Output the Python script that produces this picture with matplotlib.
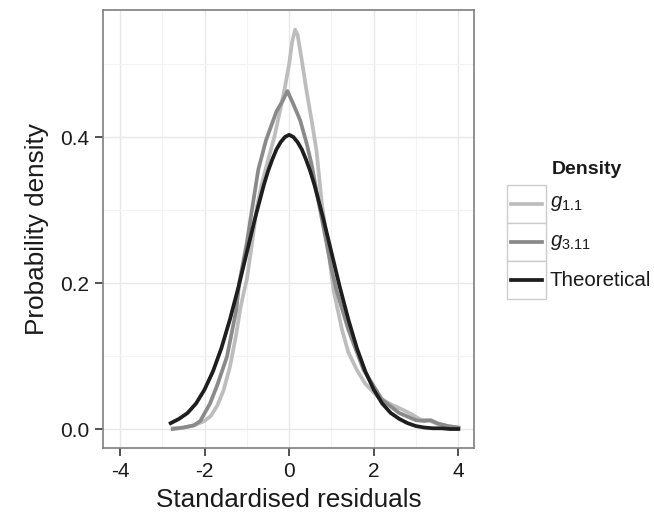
import matplotlib
matplotlib.use("Agg")
import matplotlib.pyplot as plt
from matplotlib.patches import Rectangle
from matplotlib.lines import Line2D
from matplotlib.ticker import MultipleLocator

plt.rcParams['font.family'] = ['Liberation Sans', 'DejaVu Sans']
plt.rcParams['mathtext.fontset'] = 'custom'
plt.rcParams['mathtext.rm'] = 'Liberation Sans'
plt.rcParams['mathtext.it'] = 'Liberation Sans:italic'

# ---- data ----
x_g11 = [-2.75, -2.5, -2.25, -2.0, -1.85, -1.7, -1.55, -1.4, -1.25, -1.16, -1.08, -1.0,
         -0.9, -0.76, -0.65, -0.5, -0.35, -0.2, -0.1, 0.0, 0.07, 0.14, 0.2, 0.3, 0.42,
         0.54, 0.65, 0.77, 0.89, 1.05, 1.25, 1.4, 1.6, 1.8, 2.1, 2.4, 2.7, 2.9, 3.1, 3.3,
         3.5, 3.75, 4.0]
y_g11 = [0.001, 0.002, 0.005, 0.011, 0.018, 0.032, 0.053, 0.085, 0.13, 0.163, 0.185, 0.205,
         0.245, 0.305, 0.335, 0.368, 0.40, 0.44, 0.468, 0.50, 0.53, 0.547, 0.54, 0.505, 0.46,
         0.42, 0.38, 0.31, 0.262, 0.19, 0.136, 0.105, 0.081, 0.062, 0.044, 0.034, 0.026,
         0.02, 0.013, 0.012, 0.007, 0.004, 0.002]

x_g311 = [-2.75, -2.5, -2.25, -2.1, -1.87, -1.7, -1.47, -1.25, -1.18, -1.0, -0.88, -0.73,
          -0.55, -0.3, -0.15, -0.04, 0.1, 0.26, 0.42, 0.54, 0.65, 0.81, 1.0, 1.12, 1.4,
          1.76, 2.2, 2.6, 3.0, 3.2, 3.35, 3.5, 3.75, 4.0]
y_g311 = [0.0, 0.002, 0.005, 0.011, 0.035, 0.06, 0.099, 0.163, 0.2, 0.255, 0.30, 0.355,
          0.395, 0.435, 0.45, 0.463, 0.445, 0.423, 0.39, 0.36, 0.325, 0.277, 0.22, 0.19,
          0.136, 0.081, 0.04, 0.022, 0.012, 0.011, 0.012, 0.008, 0.004, 0.002]

x_theo = [-2.8, -2.6, -2.4, -2.2, -2.0, -1.8, -1.6, -1.4, -1.2, -1.0, -0.8, -0.6, -0.5,
          -0.4, -0.3, -0.2, -0.1, 0.0, 0.1, 0.2, 0.3, 0.4, 0.5, 0.6, 0.8, 1.0, 1.2, 1.4,
          1.6, 1.8, 2.0, 2.2, 2.4, 2.6, 2.8, 3.0, 3.2, 3.4, 3.6, 3.8, 4.0]
y_theo = [0.008, 0.014, 0.022, 0.035, 0.054, 0.079, 0.111, 0.150, 0.194, 0.242, 0.290,
          0.334, 0.353, 0.369, 0.383, 0.393, 0.400, 0.403, 0.400, 0.393, 0.383, 0.369,
          0.353, 0.334, 0.290, 0.242, 0.194, 0.150, 0.111, 0.079, 0.054, 0.035, 0.022,
          0.014, 0.008, 0.004, 0.002, 0.001, 0.001, 0.000, 0.000]

x_ticks = [-4, -2, 0, 2, 4]
y_ticks = [0.0, 0.2, 0.4]
series_labels = [r'$g_{1.1}$', r'$g_{3.11}$', 'Theoretical']
series_colors = ['#bdbdbd', '#8a8a8a', '#1e1e1e']

fig = plt.figure(figsize=(6.54, 5.2), dpi=100)
ax = fig.add_axes([103/654, 1-448/520, (474-103)/654, (448-10)/520])

ax.plot(x_g11, y_g11, color=series_colors[0], lw=2.7, solid_joinstyle='round', zorder=3)
ax.plot(x_g311, y_g311, color=series_colors[1], lw=2.7, solid_joinstyle='round', zorder=4)
ax.plot(x_theo, y_theo, color=series_colors[2], lw=2.7, solid_joinstyle='round', zorder=5)

ax.set_xlim(-4.4, 4.37)
ax.set_ylim(-0.026, 0.574)
ax.set_xticks(x_ticks)
ax.set_xticklabels([str(v) for v in x_ticks])
ax.set_yticks(y_ticks)
ax.set_yticklabels([f'{v:.1f}' for v in y_ticks])
ax.xaxis.set_minor_locator(MultipleLocator(1))
ax.yaxis.set_minor_locator(MultipleLocator(0.1))
ax.grid(which='major', color='#e8e8e8', lw=1.0, zorder=0)
ax.grid(which='minor', color='#f3f3f3', lw=0.8, zorder=0)
ax.set_axisbelow(True)
for s in ax.spines.values():
    s.set_color('#7f7f7f')
    s.set_linewidth(1.2)
ax.tick_params(which='major', length=6, width=1.2, color='#333333',
               labelsize=15, labelcolor='#1a1a1a', pad=4)
ax.tick_params(which='minor', length=0)
ax.set_xlabel('Standardised residuals', fontsize=18.8, color='#1a1a1a', labelpad=5)
ax.set_ylabel('Probability density', fontsize=18.8, color='#1a1a1a', labelpad=8)

# legend drawn manually
W, H = 654, 520
fig.text(552/W, 1-170/H, 'Density', fontsize=14, fontweight='bold',
         ha='left', va='center', color='#1a1a1a')
key_x0, key_x1 = 507, 546
rows = [(185, 223), (223, 261), (261, 299)]
for (t, b), lab, col in zip(rows, series_labels, series_colors):
    fig.add_artist(Rectangle((key_x0/W, 1-b/H), (key_x1-key_x0)/W, (b-t)/H,
                             transform=fig.transFigure, facecolor='white',
                             edgecolor='#cccccc', lw=1.0))
    yc = 1-(t+b)/2/H
    fig.add_artist(Line2D([(key_x0+4)/W, (key_x1-4)/W], [yc, yc],
                          transform=fig.transFigure, color=col, lw=2.7))
    fig.text(550/W, yc, lab, fontsize=14.8, ha='left', va='center', color='#1a1a1a')

fig.savefig('out.png', dpi=100)
